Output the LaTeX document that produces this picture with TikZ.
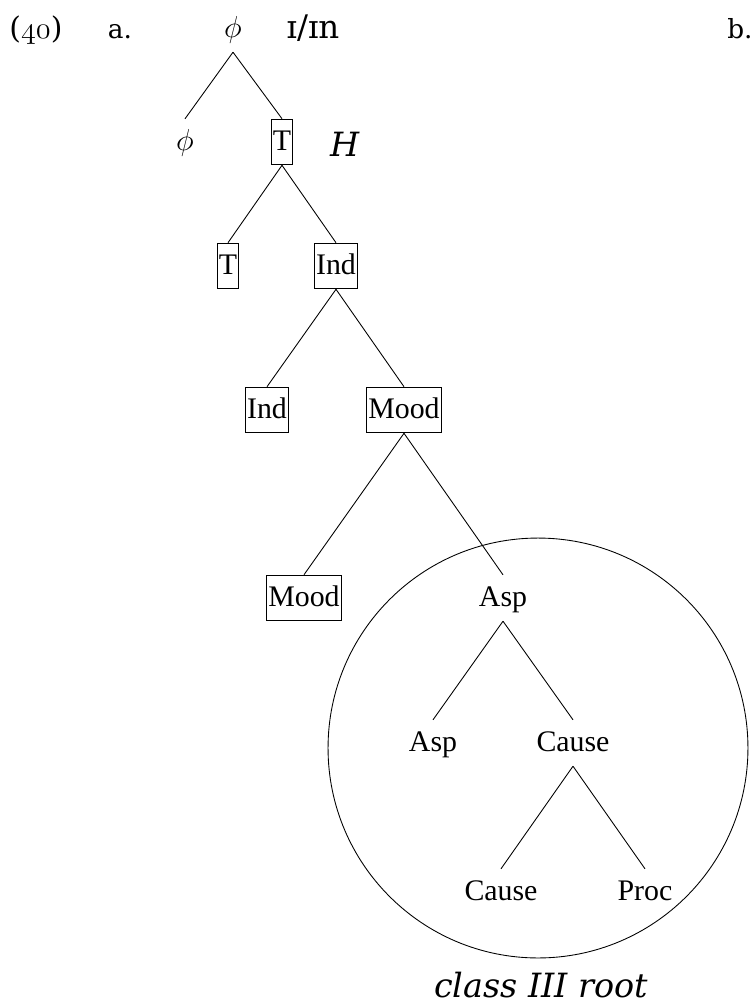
\documentclass[tikz,border=0pt]{standalone}
\usepackage{fontspec}
\setmainfont{Liberation Serif}
\newfontfamily\glossfont{DejaVu Serif}
\newcommand\oldnum[1]{{\usefont{OML}{cmm}{m}{it}#1}}

\tikzset{
  cat/.style={inner xsep=1pt, inner ysep=0pt, text height=18pt, text depth=8pt,
    font=\fontsize{17}{20}\selectfont},
  catbox/.style={cat, draw, line width=0.5pt},
  branch/.style={line width=0.5pt},
  exlabel/.style={inner sep=0pt, anchor=base, font=\glossfont\fontsize{15}{18}\selectfont},
  bigital/.style={inner sep=0pt, anchor=base, font=\glossfont\itshape\fontsize{19}{22}\selectfont}
}

\begin{document}
\begin{tikzpicture}[x=0.02cm, y=-0.02cm]
  %%%%% START %%%%%
  \useasboundingbox (0,0) rectangle (752,1005);

  \node[exlabel, font=\glossfont\fontsize{17}{20}\selectfont] (exnum) at (36,38) {(\oldnum{40})};
  \node[exlabel] (suba) at (120,38) {a.};
  \node[exlabel] (subb) at (740,38) {b.};
  \node[exlabel, font=\glossfont\fontsize{18.5}{20}\selectfont] (gloss) at (313,38) {ɪ/ɪn};

  \node[cat] (phi0) at (233,29) {$\phi$};
  \node[cat] (phi1) at (185,142) {$\phi$};
  \node[catbox] (T1) at (282,142) {T};
  \node[bigital] (tone) at (345,156) {H};

  \node[catbox] (T2) at (228,266) {T};
  \node[catbox] (Ind1) at (336,266) {Ind};

  \node[catbox] (Ind2) at (267,410) {Ind};
  \node[catbox] (Mood1) at (404,410) {Mood};

  \node[catbox] (Mood2) at (304,598) {Mood};
  \node[cat] (Asp1) at (503,598) {Asp};

  \node[cat] (Asp2) at (433,743) {Asp};
  \node[cat] (Cause1) at (573,743) {Cause};

  \node[cat] (Cause2) at (501,892) {Cause};
  \node[cat] (Proc) at (645,892) {Proc};

  \draw[branch] (phi0.south) -- (phi1.north);
  \draw[branch] (phi0.south) -- (T1.north);
  \draw[branch] (T1.south) -- (T2.north);
  \draw[branch] (T1.south) -- (Ind1.north);
  \draw[branch] (Ind1.south) -- (Ind2.north);
  \draw[branch] (Ind1.south) -- (Mood1.north);
  \draw[branch] (Mood1.south) -- (Mood2.north);
  \draw[branch] (Mood1.south) -- (Asp1.north);
  \draw[branch] (Asp1.south) -- (Asp2.north);
  \draw[branch] (Asp1.south) -- (Cause1.north);
  \draw[branch] (Cause1.south) -- (Cause2.north);
  \draw[branch] (Cause1.south) -- (Proc.north);

  % the root domain
  \coordinate (rootc) at (538,748);
  \draw[branch] (rootc) circle [radius=4.2cm];
  \node[bigital] (rootlabel) at (541,997) {class III root};

  %%%%% END %%%%%
\end{tikzpicture}
\end{document}
